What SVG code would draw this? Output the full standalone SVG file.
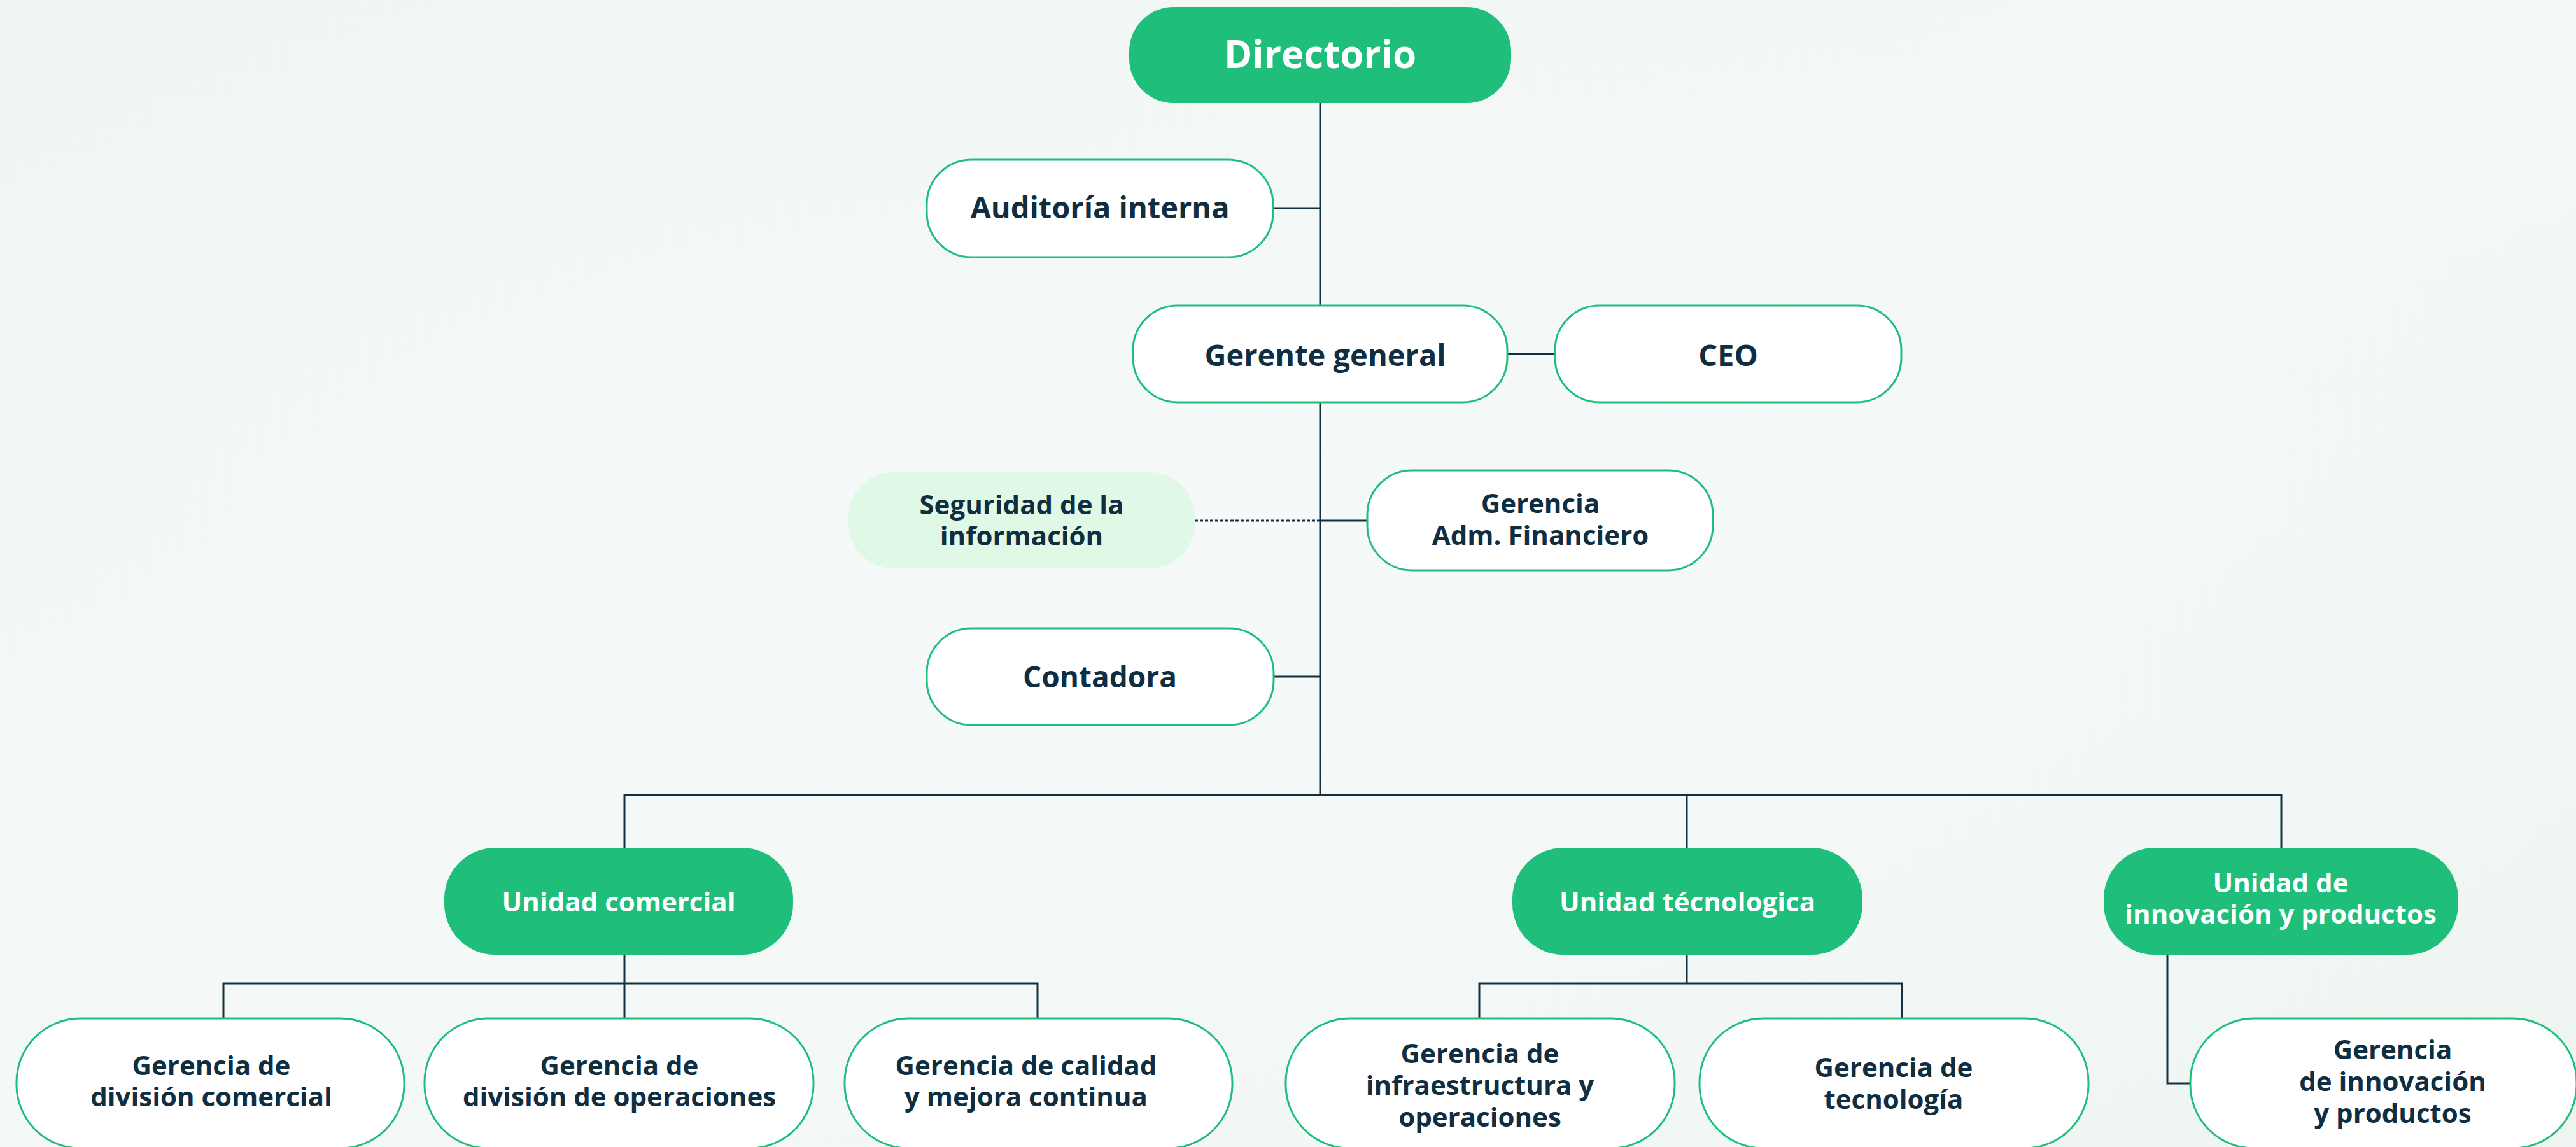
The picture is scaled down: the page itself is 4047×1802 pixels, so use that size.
<svg xmlns="http://www.w3.org/2000/svg" width="4047" height="1802" viewBox="0 0 4047 1802">
<defs>
<linearGradient id="bg" x1="0" y1="0" x2="1" y2="1">
<stop offset="0" stop-color="#EFF6F2"/>
<stop offset="0.5" stop-color="#F4F8F7"/>
<stop offset="1" stop-color="#EEF5F1"/>
</linearGradient>
<radialGradient id="glow" cx="0.45" cy="0.55" r="0.6">
<stop offset="0" stop-color="#F6F9F9" stop-opacity="0.9"/>
<stop offset="1" stop-color="#F6F9F9" stop-opacity="0"/>
</radialGradient>
</defs>
<style>
.pri{fill:#1FBE7B;}
.sec{fill:#FFFFFF;stroke:#1FBE7B;stroke-width:3;}
.soft{fill:#E0F8E6;}
.t{font-family:"Open Sans","Noto Sans","Liberation Sans",sans-serif;font-weight:700;text-anchor:middle;}
.dk{fill:#0F2E42;}
.wh{fill:#FFFFFF;}
.ln{fill:none;stroke:#12303F;stroke-width:3;}
.dot{fill:none;stroke:#12303F;stroke-width:3;stroke-dasharray:5 3;}
</style>
<rect x="0" y="0" width="4047" height="1802" fill="url(#bg)"/>
<rect x="0" y="0" width="4047" height="1802" fill="url(#glow)"/>

<g id="connectors">
<path class="ln" d="M2074 162 V1249"/>
<path class="ln" d="M2000 327 H2074"/>
<path class="ln" d="M2368 556 H2443"/>
<path class="dot" d="M1877 818 H2074"/>
<path class="ln" d="M2074 818 H2148"/>
<path class="ln" d="M2001 1063 H2074"/>
<path class="ln" d="M981 1332 V1249 H3584 V1332"/>
<path class="ln" d="M2650 1249 V1332"/>
<path class="ln" d="M981 1500 V1600"/>
<path class="ln" d="M351 1600 V1545 H1630 V1600"/>
<path class="ln" d="M2650 1500 V1545"/>
<path class="ln" d="M2324 1600 V1545 H2988 V1600"/>
<path class="ln" d="M3405 1500 V1702 H3441"/>
</g>

<g id="directorio">
<rect class="pri" x="1774" y="11" width="600" height="151" rx="70"/>
<text class="t wh" x="2074" y="107" font-size="60">Directorio</text>
</g>
<g id="auditoria">
<rect class="sec" x="1456" y="251" width="544" height="153" rx="70"/>
<text class="t dk" x="1728" y="343" font-size="47">Auditoría interna</text>
</g>
<g id="gerente">
<rect class="sec" x="1780" y="480" width="588" height="152" rx="70"/>
<text class="t dk" x="2082" y="575" font-size="47">Gerente general</text>
</g>
<g id="ceo">
<rect class="sec" x="2443" y="480" width="544" height="152" rx="70"/>
<text class="t dk" x="2715" y="575" font-size="47">CEO</text>
</g>
<g id="seguridad">
<rect class="soft" x="1333" y="742" width="544" height="151" rx="70"/>
<text class="t dk" x="1605" y="808" font-size="42">Seguridad de la</text>
<text class="t dk" x="1605" y="857" font-size="42">información</text>
</g>
<g id="adm">
<rect class="sec" x="2148" y="739" width="543" height="157" rx="70"/>
<text class="t dk" x="2420" y="806" font-size="42">Gerencia</text>
<text class="t dk" x="2420" y="856" font-size="42">Adm. Financiero</text>
</g>
<g id="contadora">
<rect class="sec" x="1456" y="987" width="545" height="152" rx="70"/>
<text class="t dk" x="1728" y="1080" font-size="46">Contadora</text>
</g>

<g id="u-comercial">
<rect class="pri" x="698" y="1332" width="548" height="168" rx="80"/>
<text class="t wh" x="972" y="1432" font-size="42">Unidad comercial</text>
</g>
<g id="u-tecnologica">
<rect class="pri" x="2376" y="1332" width="550" height="168" rx="80"/>
<text class="t wh" x="2651" y="1432" font-size="42">Unidad técnologica</text>
</g>
<g id="u-innovacion">
<rect class="pri" x="3305" y="1332" width="557" height="168" rx="80"/>
<text class="t wh" x="3583" y="1402" font-size="42">Unidad de</text>
<text class="t wh" x="3583" y="1451" font-size="42">innovación y productos</text>
</g>

<g id="g-div-comercial">
<rect class="sec" x="26" y="1600" width="609" height="204" rx="100"/>
<text class="t dk" x="332" y="1689" font-size="42">Gerencia de</text>
<text class="t dk" x="332" y="1738" font-size="42">división comercial</text>
</g>
<g id="g-div-operaciones">
<rect class="sec" x="667" y="1600" width="611" height="204" rx="100"/>
<text class="t dk" x="973" y="1689" font-size="42">Gerencia de</text>
<text class="t dk" x="973" y="1738" font-size="42">división de operaciones</text>
</g>
<g id="g-calidad">
<rect class="sec" x="1327" y="1600" width="609" height="204" rx="100"/>
<text class="t dk" x="1612" y="1689" font-size="42">Gerencia de calidad</text>
<text class="t dk" x="1612" y="1738" font-size="42">y mejora continua</text>
</g>
<g id="g-infraestructura">
<rect class="sec" x="2020" y="1600" width="611" height="204" rx="100"/>
<text class="t dk" x="2325" y="1670" font-size="42">Gerencia de</text>
<text class="t dk" x="2325" y="1720" font-size="42">infraestructura y</text>
<text class="t dk" x="2325" y="1770" font-size="42">operaciones</text>
</g>
<g id="g-tecnologia">
<rect class="sec" x="2670" y="1600" width="611" height="204" rx="100"/>
<text class="t dk" x="2975" y="1692" font-size="42">Gerencia de</text>
<text class="t dk" x="2975" y="1742" font-size="42">tecnología</text>
</g>
<g id="g-innovacion">
<rect class="sec" x="3441" y="1600" width="607" height="204" rx="100"/>
<text class="t dk" x="3759" y="1664" font-size="42">Gerencia</text>
<text class="t dk" x="3759" y="1714" font-size="42">de innovación</text>
<text class="t dk" x="3759" y="1764" font-size="42">y productos</text>
</g>
</svg>
